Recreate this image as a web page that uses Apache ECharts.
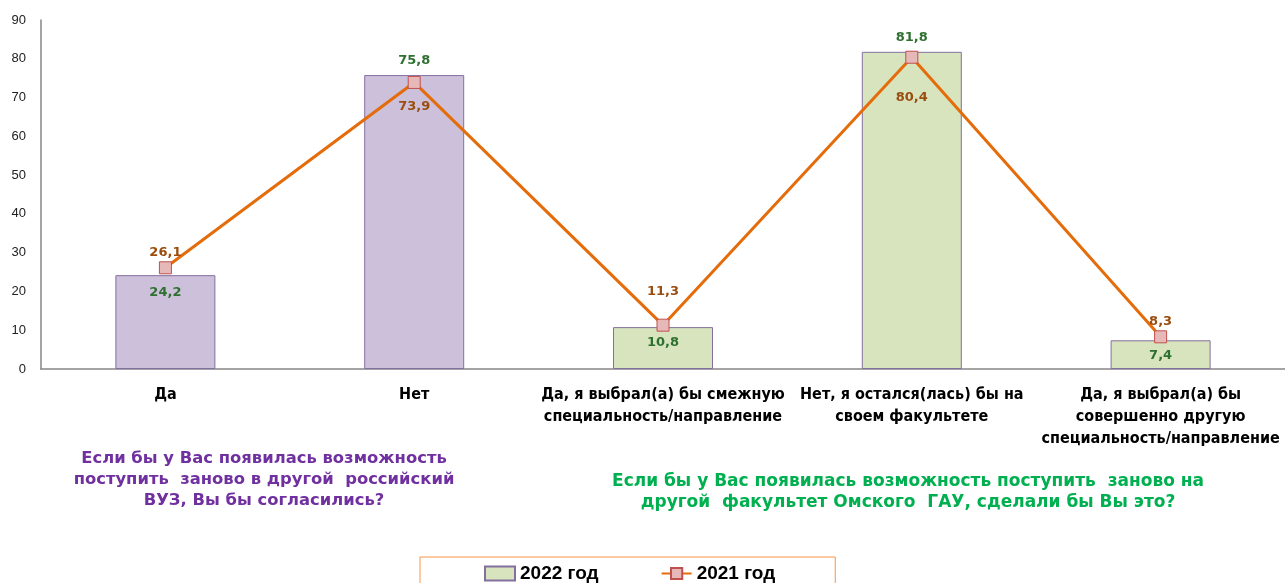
<!DOCTYPE html>
<html><head><meta charset="utf-8">
<script src="https://cdn.jsdelivr.net/npm/echarts@6/dist/echarts.min.js"></script>
<style>html,body{margin:0;padding:0;background:#fff}#c{width:1285px;height:583px}</style>
</head><body><div id="c"></div>
<script>
const categories = [
  'Да',
  'Нет',
  'Да, я выбрал(а) бы смежную\nспециальность/направление',
  'Нет, я остался(лась) бы на\nсвоем факультете',
  'Да, я выбрал(а) бы\nсовершенно другую\nспециальность/направление'
];
const values2022 = [24.2, 75.8, 10.8, 81.8, 7.4];
const values2021 = [26.1, 73.9, 11.3, 80.4, 8.3];
const yTicks = [0, 10, 20, 30, 40, 50, 60, 70, 80, 90];
const seriesNames = ['2022 год', '2021 год'];
const question1 = 'Если бы у Вас появилась возможность\nпоступить  заново в другой  российский\nВУЗ, Вы бы согласились?';
const question2 = 'Если бы у Вас появилась возможность поступить  заново на\nдругой  факультет Омского  ГАУ, сделали бы Вы это?';

const purple = '#CCC0DA', green = '#D7E4BD', barBorder = '#8470A0';
const barColors = [purple, purple, green, green, green];
const barLabelPos = [['insideTop', 11], ['top', 8], ['insideTop', 9], ['top', 8], ['insideTop', 9]];
const lineLabelPos = [['top', 2], ['bottom', 11], ['top', 21], ['bottom', 27], ['top', 2]];
const fmt = p => String(p.value).replace('.', ',');
const valFont = {fontFamily: 'DejaVu Sans', fontWeight: 'bold', fontSize: 13};

const chart = echarts.init(document.getElementById('c'));
chart.setOption({
  animation: false,
  grid: {left: 41, right: 0, top: 20, bottom: 214, containLabel: false},
  xAxis: {
    type: 'category', data: categories,
    axisLine: {lineStyle: {color: '#868686', width: 1.5}},
    axisTick: {show: false},
    axisLabel: {interval: 0, margin: 15, lineHeight: 22, color: '#000',
      fontFamily: 'Liberation Sans Narrow, DejaVu Sans Condensed, sans-serif', fontWeight: 'bold', fontSize: 16}
  },
  yAxis: {
    type: 'value', min: yTicks[0], max: yTicks[yTicks.length - 1], interval: yTicks[1] - yTicks[0],
    axisLine: {show: true, lineStyle: {color: '#868686', width: 1.5}},
    axisTick: {show: false},
    splitLine: {show: false},
    axisLabel: {margin: 15, color: '#222', fontFamily: 'Liberation Sans, sans-serif', fontSize: 13}
  },
  legend: {
    left: 420, top: 557, itemGap: 62, itemWidth: 30, itemHeight: 14,
    padding: [7, 60, 7, 64],
    borderColor: '#F79646', borderWidth: 1,
    textStyle: {fontFamily: 'Liberation Sans, sans-serif', fontWeight: 'bold', fontSize: 19, color: '#000'},
    data: [{name: seriesNames[0], icon: 'rect'}, {name: seriesNames[1]}]
  },
  graphic: [
    {type: 'text', x: 264, y: 448, style: {text: question1, textAlign: 'center', fill: '#7030A0',
      font: 'bold 16.4px "DejaVu Sans"', lineHeight: 21}},
    {type: 'text', x: 908, y: 471, style: {text: question2, textAlign: 'center', fill: '#00B050',
      font: 'bold 17px "DejaVu Sans"', lineHeight: 21}}
  ],
  series: [
    {
      name: seriesNames[0], type: 'bar', barWidth: 100,
      itemStyle: {color: green, borderColor: barBorder, borderWidth: 1},
      data: values2022.map((v, i) => ({
        value: v,
        itemStyle: {color: barColors[i], borderColor: barBorder, borderWidth: 1},
        label: {show: true, position: barLabelPos[i][0], distance: barLabelPos[i][1],
          color: '#2E7030', formatter: fmt, ...valFont}
      })),
      z: 1
    },
    {
      name: seriesNames[1], type: 'line',
      symbol: 'rect', symbolSize: 12,
      lineStyle: {color: '#E46C0A', width: 3},
      itemStyle: {color: '#E6B9B8', borderColor: '#C0504D', borderWidth: 1},
      data: values2021.map((v, i) => ({
        value: v,
        label: {show: true, position: lineLabelPos[i][0], distance: lineLabelPos[i][1],
          color: '#9A4D0E', formatter: fmt, ...valFont}
      })),
      z: 3
    }
  ]
});
</script></body></html>
